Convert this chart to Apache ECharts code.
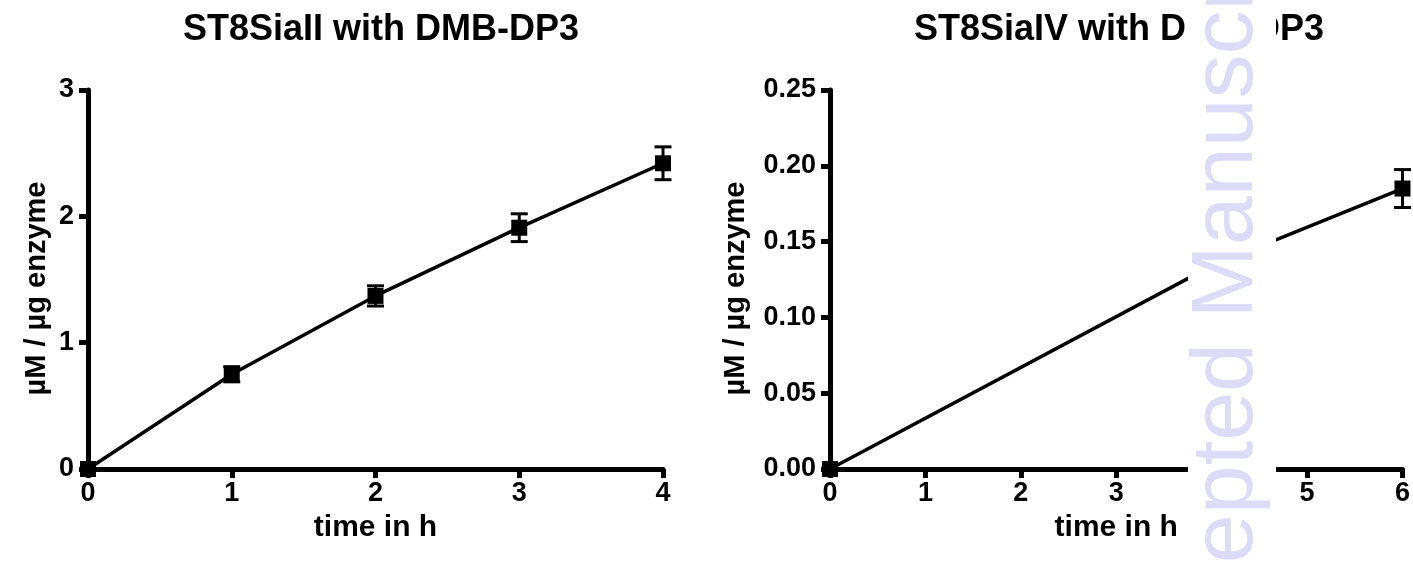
<!DOCTYPE html>
<html>
<head>
<meta charset="utf-8">
<script src="https://cdn.jsdelivr.net/npm/echarts@6/dist/echarts.min.js"></script>
<style>
html,body{margin:0;padding:0;background:#fff;}
#chart{width:1413px;height:563px;}
</style>
</head>
<body>
<div id="chart"></div>
<script>
// ---- data ----
const titleA = 'ST8SiaII with DMB-DP3';
const titleB = 'ST8SiaIV with DMB-DP3';
const xTitle = 'time in h';
const yTitle = 'µM / µg enzyme';

const timeA = [0, 1, 2, 3, 4];
const meanA = [0, 0.75, 1.37, 1.91, 2.42];
const errA  = [0, 0.06, 0.08, 0.11, 0.13];

const timeB = [0, 4, 6];
const meanB = [0, 0.134, 0.185];
const errB  = [0, 0, 0.0125];

const watermark = 'Accepted Manuscript';

// ---- styling ----
const FONT = "'Liberation Sans', Arial, sans-serif";
const BLACK = '#000';

const pairsA = timeA.map((t, i) => [t, meanA[i]]);
const pairsB = timeB.map((t, i) => [t, meanB[i]]);
const errDataA = timeA.map((t, i) => [t, meanA[i], errA[i]]);
const errDataB = timeB.map((t, i) => [t, meanB[i], errB[i]]);

function errorBar(params, api) {
  const x = api.value(0), m = api.value(1), e = api.value(2);
  if (!e) return null;
  const top = api.coord([x, m + e]);
  const bot = api.coord([x, m - e]);
  const hw = 8.5;
  const st = { stroke: BLACK, lineWidth: 3, fill: null };
  return {
    type: 'group',
    children: [
      { type: 'line', shape: { x1: top[0], y1: top[1], x2: bot[0], y2: bot[1] }, style: st },
      { type: 'line', shape: { x1: top[0] - hw, y1: top[1], x2: top[0] + hw, y2: top[1] }, style: st },
      { type: 'line', shape: { x1: bot[0] - hw, y1: bot[1], x2: bot[0] + hw, y2: bot[1] }, style: st }
    ]
  };
}

function xAxisCfg(idx, max) {
  return {
    type: 'value', gridIndex: idx, min: 0, max: max, interval: 1,
    name: xTitle, nameLocation: 'middle', nameGap: 44,
    nameTextStyle: { fontFamily: FONT, fontWeight: 'bold', fontSize: 30, color: BLACK },
    axisLine: { show: true, onZero: false, lineStyle: { color: BLACK, width: 5 } },
    axisTick: { show: true, inside: false, length: 9, lineStyle: { color: BLACK, width: 5 } },
    axisLabel: { show: true, margin: 11, fontFamily: FONT, fontWeight: 'bold', fontSize: 27, color: BLACK,
                 showMinLabel: true, showMaxLabel: true },
    splitLine: { show: false }
  };
}
function yAxisCfg(idx, max, interval, decimals, gap) {
  return {
    type: 'value', gridIndex: idx, min: 0, max: max, interval: interval,
    name: yTitle, nameLocation: 'middle', nameGap: gap,
    nameTextStyle: { fontFamily: FONT, fontWeight: 'bold', fontSize: 29, color: BLACK, padding: [0, 18, 0, 0] },
    axisLine: { show: true, onZero: false, lineStyle: { color: BLACK, width: 5 } },
    axisTick: { show: true, inside: false, length: 9, lineStyle: { color: BLACK, width: 5 } },
    axisLabel: { show: true, margin: 14, fontFamily: FONT, fontWeight: 'bold', fontSize: 27, color: BLACK,
                 showMinLabel: true, showMaxLabel: true,
                 formatter: v => v.toFixed(decimals) },
    splitLine: { show: false }
  };
}

const chart = echarts.init(document.getElementById('chart'), null, { renderer: 'canvas' });
chart.setOption({
  backgroundColor: '#fff',
  animation: false,
  title: [
    { text: titleA, left: 376, top: 7, textAlign: 'center',
      textStyle: { fontFamily: FONT, fontWeight: 'bold', fontSize: 36, color: BLACK } },
    { text: titleB, left: 1114, top: 7, textAlign: 'center',
      textStyle: { fontFamily: FONT, fontWeight: 'bold', fontSize: 36, color: BLACK } }
  ],
  grid: [
    { left: 88, top: 90, width: 575, height: 379, containLabel: false },
    { left: 830, top: 90, width: 575, height: 379, containLabel: false }
  ],
  xAxis: [xAxisCfg(0, 4), xAxisCfg(1, 6)],
  yAxis: [yAxisCfg(0, 3, 1, 0, 37), yAxisCfg(1, 0.25, 0.05, 2, 80)],
  series: [
    { type: 'line', xAxisIndex: 0, yAxisIndex: 0, data: pairsA, symbol: 'none', clip: false,
      lineStyle: { color: BLACK, width: 3.5 }, z: 2 },
    { type: 'custom', xAxisIndex: 0, yAxisIndex: 0, data: errDataA, renderItem: errorBar, clip: false, z: 3 },
    { type: 'scatter', xAxisIndex: 0, yAxisIndex: 0, data: pairsA, symbol: 'rect', symbolSize: 16, clip: false,
      itemStyle: { color: BLACK, opacity: 1 }, z: 4 },
    { type: 'line', xAxisIndex: 1, yAxisIndex: 1, data: pairsB, symbol: 'none', clip: false,
      lineStyle: { color: BLACK, width: 3.5 }, z: 2 },
    { type: 'custom', xAxisIndex: 1, yAxisIndex: 1, data: errDataB, renderItem: errorBar, clip: false, z: 3 },
    { type: 'scatter', xAxisIndex: 1, yAxisIndex: 1, data: pairsB, symbol: 'rect', symbolSize: 16, clip: false,
      itemStyle: { color: BLACK, opacity: 1 }, z: 4 }
  ],
  graphic: [
    { type: 'rect', z: 100, shape: { x: 1188, y: 0, width: 88, height: 563 }, style: { fill: '#fff' } },
    { type: 'text', z: 101, x: 1228, y: 299, rotation: Math.PI / 2,
      style: { text: watermark, fill: '#dcdcf8', font: "88px 'Liberation Sans', Arial, sans-serif",
               textAlign: 'center', textVerticalAlign: 'middle', verticalAlign: 'middle' } }
  ]
});
</script>
</body>
</html>
